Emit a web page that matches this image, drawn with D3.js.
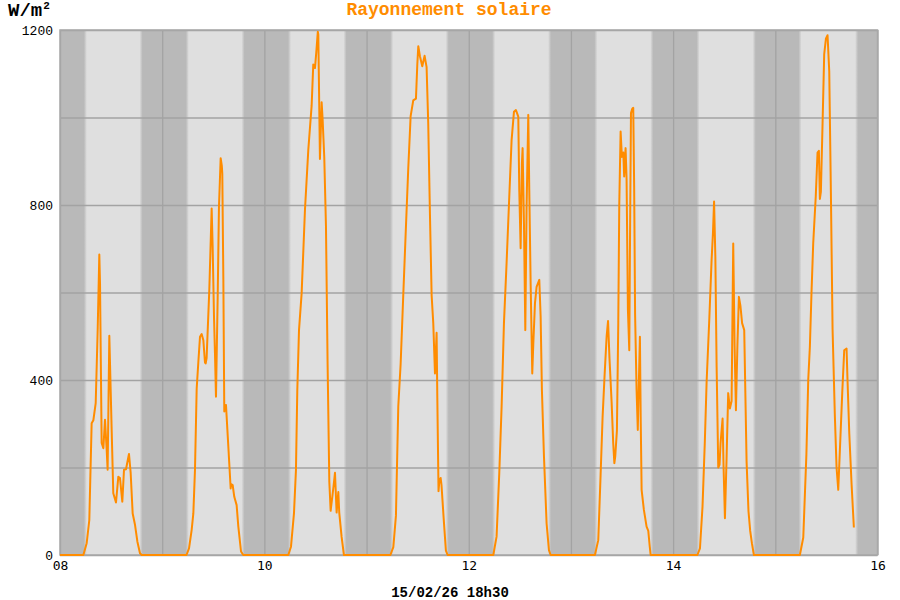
<!DOCTYPE html>
<html>
<head>
<meta charset="utf-8">
<script src="https://cdn.jsdelivr.net/npm/d3@7"></script>
<style>
  body { margin: 0; background: #fff; }
  text { font-family: "Liberation Mono", "DejaVu Sans Mono", monospace; }
</style>
</head>
<body>
<svg id="chart" width="900" height="600"></svg>
<script>
// day starts shown on the chart
var dayStarts = ["2026-02-08", "2026-02-09", "2026-02-10", "2026-02-11",
                 "2026-02-12", "2026-02-13", "2026-02-14", "2026-02-15"];

// sunrise / sunset (hour of the day) used for the night shading
var sunrise = [5.95, 5.9, 5.9, 5.9, 5.85, 5.85, 5.85, 5.8];
var sunset  = [19.05, 19.0, 18.95, 18.95, 19.0, 19.0, 19.05, 19.1];

// [hour, W/m2] read for each day
var day08 = [[0,0],[5.48,0],[6.26,27],[6.89,80],[7.44,301],[7.83,308],[8.38,347],[8.85,515],[9.24,687],[9.4,620],[9.5,523],[9.79,256],[10.18,244],[10.57,309],[10.96,240],[11.19,195],[11.59,501],[12.13,286],[12.52,141],[13.15,120],[13.7,179],[14.09,176],[14.64,122],[15.03,195],[15.5,196],[16.2,231],[16.6,187],[17.07,95],[17.61,69],[18.16,31],[18.79,4],[19.18,0]];
var day09 = [[5.7,0],[6.3,15],[6.92,57],[7.31,95],[7.7,194],[8.1,380],[8.49,440],[8.88,499],[9.27,505],[9.66,491],[10.05,440],[10.21,438],[10.44,450],[11.07,606],[11.62,792],[11.85,705],[12.16,545],[12.4,460],[12.63,362],[13.03,590],[13.34,796],[13.73,907],[14.0,890],[14.12,872],[14.36,629],[14.59,328],[14.98,343],[15.53,248],[16.08,152],[16.2,162],[16.55,160],[16.94,133],[17.49,114],[17.88,65],[18.51,8],[19.05,0]];
var day10 = [[5.62,0],[6.25,19],[6.95,95],[7.42,194],[7.74,377],[8.13,514],[8.75,598],[9.54,789],[10.32,926],[11.1,1027],[11.49,1121],[11.88,1113],[12.2,1150],[12.55,1196],[12.66,1190],[13.05,905],[13.45,1035],[13.68,995],[14.07,909],[14.46,751],[14.85,436],[15.25,168],[15.56,101],[16.18,152],[16.58,188],[16.97,97],[17.36,144],[17.59,97],[18.14,42],[18.69,0]];
var day11 = [[5.6,0],[6.28,18],[6.9,90],[7.45,340],[8.0,436],[8.62,593],[9.25,751],[9.8,885],[10.35,1003],[10.97,1039],[11.6,1043],[11.91,1121],[12.15,1163],[12.54,1140],[13.08,1117],[13.63,1141],[14.1,1115],[14.49,987],[14.89,780],[15.28,593],[15.67,530],[16.06,415],[16.45,508],[16.62,360],[16.9,146],[17.1,170],[17.4,176],[17.6,160],[18.1,85],[18.64,10],[19.03,0]];
var day12 = [[5.76,0],[6.54,42],[7.17,187],[7.72,339],[8.27,530],[8.89,667],[9.52,819],[10.07,949],[10.61,1013],[11.08,1017],[11.63,1002],[11.87,834],[12.18,701],[12.49,895],[12.65,930],[12.96,758],[13.28,514],[13.59,796],[13.98,1006],[14.22,834],[14.53,621],[14.92,415],[15.16,484],[15.55,575],[15.94,613],[16.56,629],[16.88,545],[17.19,377],[17.66,225],[18.29,72],[18.83,11],[19.23,0]];
var day13 = [[5.64,0],[6.42,34],[6.97,183],[7.44,315],[7.9,410],[8.38,500],[8.72,535],[9.05,450],[9.55,350],[9.94,255],[10.2,210],[10.4,225],[10.8,285],[11.12,530],[11.35,800],[11.66,968],[11.97,910],[12.3,920],[12.5,865],[12.83,930],[13.07,860],[13.38,560],[13.7,468],[13.93,800],[14.1,1010],[14.4,1020],[14.63,1022],[14.85,840],[15.07,550],[15.42,377],[15.7,286],[15.97,400],[16.2,499],[16.4,300],[16.6,149],[17.14,103],[17.77,65],[18.16,55],[18.5,20],[18.71,0]];
var day14 = [[5.7,0],[6.3,15],[6.9,110],[7.45,260],[7.86,396],[8.5,540],[9.03,674],[9.35,735],[9.62,808],[9.92,682],[10.21,430],[10.6,200],[10.9,206],[11.14,255],[11.61,312],[11.85,200],[12.16,84],[12.55,220],[12.94,370],[13.34,335],[13.73,352],[14.12,712],[14.43,480],[14.75,331],[15.1,480],[15.45,590],[15.8,570],[16.2,530],[16.7,514],[17.25,214],[17.7,100],[18.1,55],[18.5,27],[18.97,0]];
var day15 = [[5.77,0],[6.56,40],[7.3,230],[7.74,400],[8.12,476],[8.5,600],[8.9,712],[9.5,820],[9.92,920],[10.24,924],[10.47,814],[10.7,830],[11.1,987],[11.49,1145],[11.88,1180],[12.27,1188],[12.66,1105],[13.05,830],[13.45,515],[13.99,319],[14.38,200],[14.78,149],[15.17,240],[15.72,370],[16.19,468],[16.73,472],[16.97,397],[17.36,279],[17.91,161],[18.45,63]];

var dayData = [day08, day09, day10, day11, day12, day13, day14, day15];

var yTicks = [0, 200, 400, 600, 800, 1000, 1200];
var titleText = "Rayonnement solaire";
var footerText = "15/02/26 18h30";

var svg = d3.select('#chart');
var margin = {top: 30, right: 22.5, bottom: 45, left: 60};
var chart_width = 900 - margin.left - margin.right;
var chart_height = 600 - margin.top - margin.bottom;

var parseDay = d3.timeParse("%Y-%m-%d");
var start = parseDay(dayStarts[0]);
var end = d3.timeDay.offset(parseDay(dayStarts[dayStarts.length - 1]), 1);

var x = d3.scaleTime().domain([start, end]).range([0, chart_width]);
var y = d3.scaleLinear().domain([0, 1200]).range([chart_height, 0]);

function at(day, hour) {
  return d3.timeMinute.offset(parseDay(day), Math.round(hour * 60));
}

// build the series
var series = [];
dayData.forEach(function(pts, i) {
  pts.forEach(function(p) {
    series.push({t: at(dayStarts[i], p[0]), v: p[1]});
  });
});

var chart = svg.append('g')
  .attr('transform', 'translate(' + margin.left + ',' + margin.top + ')');

// day / night background gradient
var dark = '#b9b9b9', mid = '#cbcbcb', light = '#dfdfdf';
var grad = svg.append('defs').append('linearGradient')
  .attr('id', 'daynight')
  .attr('gradientUnits', 'userSpaceOnUse')
  .attr('x1', 0).attr('x2', chart_width).attr('y1', 0).attr('y2', 0);

var stops = [[0, dark]];
dayStarts.forEach(function(d, i) {
  stops.push([x(at(d, sunrise[i] - 0.35)), dark]);
  stops.push([x(at(d, sunrise[i])), mid]);
  stops.push([x(at(d, sunrise[i] + 0.35)), light]);
  stops.push([x(at(d, sunset[i] - 0.35)), light]);
  stops.push([x(at(d, sunset[i])), mid]);
  stops.push([x(at(d, sunset[i] + 0.35)), dark]);
});
stops.push([chart_width, dark]);

grad.selectAll('stop')
  .data(stops)
  .join('stop')
  .attr('offset', function(d) { return d[0] / chart_width; })
  .attr('stop-color', function(d) { return d[1]; });

chart.append('rect')
  .attr('width', chart_width)
  .attr('height', chart_height)
  .attr('fill', 'url(#daynight)');

// horizontal grid + y labels
var yAxis = d3.axisLeft(y)
  .tickValues(yTicks)
  .tickSize(-chart_width)
  .tickPadding(7)
  .tickFormat(function(d) { return d % 400 === 0 ? d : ''; });

chart.append('g')
  .attr('class', 'y axis')
  .call(yAxis)
  .call(function(g) {
    g.select('.domain').remove();
    g.selectAll('line').attr('stroke', '#a3a3a3').attr('stroke-width', 1.3);
    g.selectAll('text')
      .attr('fill', '#000')
      .style('font-family', '"Liberation Mono", monospace')
      .style('font-size', '13px');
  });

// vertical grid + x labels
var xAxis = d3.axisBottom(x)
  .ticks(d3.timeDay.every(1))
  .tickSize(-chart_height)
  .tickPadding(6)
  .tickFormat(function(d) { return d.getDate() % 2 === 0 ? d3.timeFormat('%d')(d) : ''; });

chart.append('g')
  .attr('class', 'x axis')
  .attr('transform', 'translate(0,' + chart_height + ')')
  .call(xAxis)
  .call(function(g) {
    g.select('.domain').remove();
    g.selectAll('line').attr('stroke', '#a3a3a3').attr('stroke-width', 1.3);
    g.selectAll('text')
      .attr('fill', '#000')
      .style('font-family', '"DejaVu Sans Mono", monospace')
      .style('font-size', '13px');
  });

// plot border
chart.append('rect')
  .attr('width', chart_width)
  .attr('height', chart_height)
  .attr('fill', 'none')
  .attr('stroke', '#a8a8a8')
  .attr('stroke-width', 1.5);

// the radiation line
var line = d3.line()
  .x(function(d) { return x(d.t); })
  .y(function(d) { return y(d.v); });

chart.append('path')
  .datum(series)
  .attr('d', line)
  .attr('fill', 'none')
  .attr('stroke', '#ff8c00')
  .attr('stroke-width', 2)
  .attr('stroke-linejoin', 'round');

// title
svg.append('text')
  .attr('x', 449)
  .attr('y', 15)
  .attr('text-anchor', 'middle')
  .attr('fill', '#ff8c00')
  .style('font-weight', 'bold')
  .style('font-size', '18px')
  .text(titleText);

// unit
var unit = svg.append('text')
  .attr('x', 8)
  .attr('y', 16)
  .attr('fill', '#000')
  .style('font-weight', 'bold')
  .style('font-size', '19px');
unit.append('tspan').text('W/m');
unit.append('tspan').attr('dy', -7).attr('dx', 1).style('font-size', '11px').text('2');

// date footer
svg.append('text')
  .attr('x', 450)
  .attr('y', 597)
  .attr('text-anchor', 'middle')
  .attr('fill', '#000')
  .style('font-weight', 'bold')
  .style('font-size', '14px')
  .text(footerText);
</script>
</body>
</html>
